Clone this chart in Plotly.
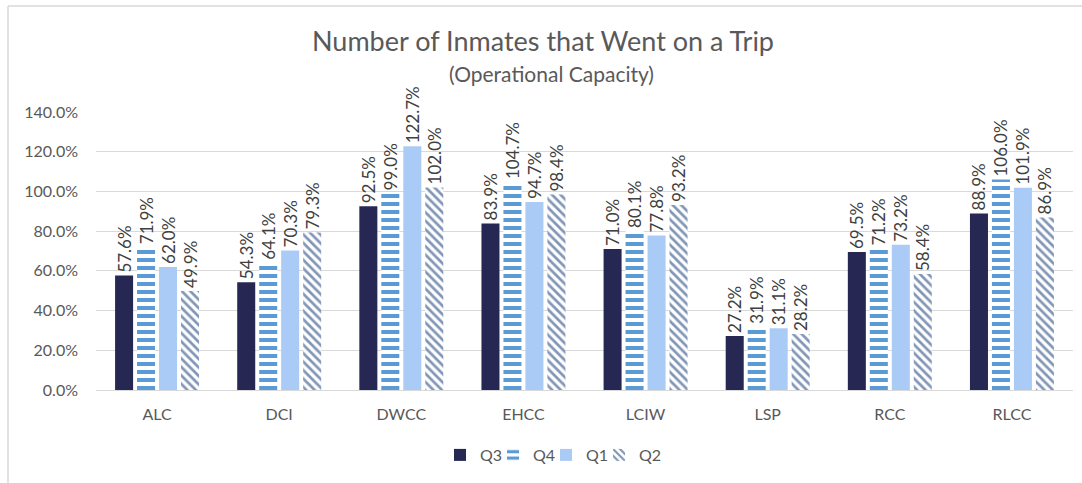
import plotly.graph_objects as go

categories = ["ALC", "DCI", "DWCC", "EHCC", "LCIW", "LSP", "RCC", "RLCC"]
q3 = [57.6, 54.3, 92.5, 83.9, 71.0, 27.2, 69.5, 88.9]
q4 = [71.9, 64.1, 99.0, 104.7, 80.1, 31.9, 71.2, 106.0]
q1 = [62.0, 70.3, 122.7, 94.7, 77.8, 31.1, 73.2, 101.9]
q2 = [49.9, 79.3, 102.0, 98.4, 93.2, 28.2, 58.4, 86.9]
y_ticks = [0, 20, 40, 60, 80, 100, 120, 140]
y_tick_labels = ["0.0%", "20.0%", "40.0%", "60.0%", "80.0%", "100.0%", "120.0%", "140.0%"]

FONT = "Lato, Carlito, 'Liberation Sans', sans-serif"
TXT = "#595959"

W, H = 1082, 483
L, R, T, B = 96, 1073, 112, 390   # plot area in pixels


def px_x(x):
    return (x - L) / (R - L)


def px_y(y):
    return (B - y) / (B - T)


series = [
    ("Q3", q3, dict(color="#262853")),
    ("Q4", q4, dict(color="white", pattern=dict(shape="-", fgcolor="#5B9BD5", bgcolor="white",
                                                  fgopacity=1, size=8, solidity=0.5, fillmode="replace"))),
    ("Q1", q1, dict(color="#ABCBF7")),
    ("Q2", q2, dict(color="white", pattern=dict(shape="\\", fgcolor="#8196B6", bgcolor="white",
                                                  fgopacity=1, size=6, solidity=0.45, fillmode="replace"))),
]

fig = go.Figure()
for name, vals, marker in series:
    fig.add_trace(go.Bar(
        name=name, x=categories, y=vals, marker=dict(line=dict(width=0), **marker),
        text=[f"{v:.1f}%" for v in vals], textposition="outside", textangle=-90,
        constraintext="none",
        textfont=dict(family=FONT, size=17, color="#404040"), cliponaxis=False,
    ))

# invisible legend spacer so the last legend label is not clipped
fig.add_trace(go.Scatter(x=[None], y=[None], mode="markers", name=" ",
                         marker=dict(color="rgba(0,0,0,0)"), hoverinfo="skip"))

fig.update_layout(
    width=W, height=H,
    margin=dict(l=L, r=W - R, t=T, b=H - B, autoexpand=False),
    paper_bgcolor="white", plot_bgcolor="white",
    barmode="group", bargap=0.28, bargroupgap=0.18,
    font=dict(family=FONT, color=TXT),
    title=dict(text="Number of Inmates that Went on a Trip",
               x=px_x(543), xanchor="center", xref="paper", yref="container", y=1 - 42 / H, yanchor="middle",
               font=dict(family=FONT, size=27, color=TXT)),
    annotations=[dict(text="(Operational Capacity)", xref="paper", yref="paper",
                      x=px_x(551), y=px_y(73), xanchor="center", yanchor="middle",
                      showarrow=False, font=dict(family=FONT, size=21, color=TXT))],
    legend=dict(orientation="h", x=px_x(440), xanchor="left", y=px_y(438), yanchor="top",
                font=dict(family=FONT, size=16, color=TXT), traceorder="normal",
                itemwidth=30, entrywidth=8, entrywidthmode="pixels"),
    yaxis=dict(range=[0, 140], tickvals=y_ticks, ticktext=y_tick_labels, automargin=False,
               gridcolor="#D9D9D9", gridwidth=1, zeroline=False, showline=False,
               tickfont=dict(family=FONT, size=16, color=TXT), ticks="", ticklabelstandoff=17),
    xaxis=dict(showline=True, linecolor="#D9D9D9", linewidth=1, ticks="", automargin=False,
               tickfont=dict(family=FONT, size=16, color=TXT), ticklabelstandoff=10),
    shapes=[
        dict(type="line", xref="paper", yref="paper", x0=px_x(8), x1=px_x(1090),
             y0=px_y(6), y1=px_y(6), line=dict(color="#D9D9D9", width=1.5)),
        dict(type="line", xref="paper", yref="paper", x0=px_x(8), x1=px_x(8),
             y0=px_y(6), y1=px_y(490), line=dict(color="#D9D9D9", width=1.5)),
    ],
)

fig.write_html("out.html", post_script="document.body.style.margin='0';",
               config={"displayModeBar": False})
